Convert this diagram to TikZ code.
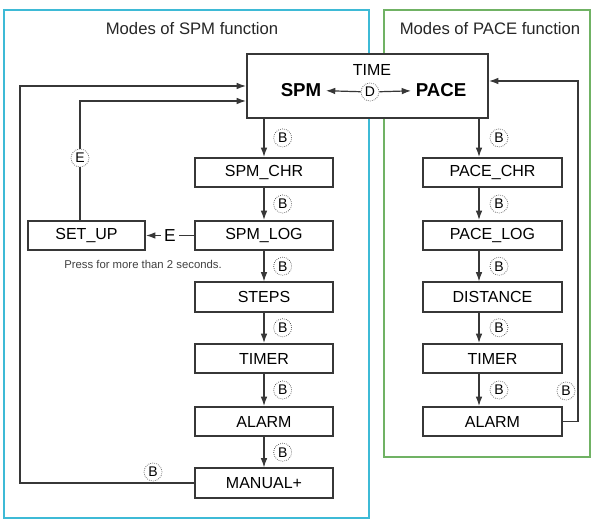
\documentclass[tikz,border=0pt]{standalone}
\usepackage{fontspec}
\setmainfont{Liberation Sans}
\usetikzlibrary{arrows.meta,positioning,calc}
\definecolor{spmframe}{RGB}{62,186,214}
\definecolor{paceframe}{RGB}{112,178,100}
\definecolor{linegray}{RGB}{55,55,55}
\tikzset{
 mode/.style={rectangle,draw=linegray,line width=1.3pt,fill=white,minimum width=104pt,minimum height=22pt,inner sep=0pt,font=\fontsize{12}{14}\selectfont},
 keyb/.style={circle,draw=linegray,densely dotted,line width=0.5pt,fill=white,minimum size=13.5pt,inner sep=0pt,font=\fontsize{10.5}{11}\selectfont},
 title/.style={font=\fontsize{12.5}{14}\selectfont,text=black!85},
 arrow/.style={-{Latex[length=7pt,width=5pt]},line width=0.9pt,draw=linegray}}
\begin{document}
\begin{tikzpicture}[x=0.75pt,y=-0.75pt]
\useasboundingbox (0,0) rectangle (592,523);
% frames
\draw[spmframe,line width=1.5pt] (4,10) rectangle (369,518);
\draw[paceframe,line width=1.5pt] (384,10) rectangle (590,457);
\node[title] (spmtitle) at (192,29) {Modes of SPM function};
\node[title] (pacetitle) at (490,29) {Modes of PACE function};
% top box
\node[mode,minimum width=181pt,minimum height=48pt] (time) at (367.5,86) {};
\node[font=\fontsize{12}{14}\selectfont] (timetxt) at (372,70) {TIME};
\node[font=\fontsize{14}{16}\selectfont\bfseries] (spmtxt) at (301,90) {SPM};
\node[font=\fontsize{14}{16}\selectfont\bfseries] (pacetxt) at (441,90) {PACE};
\node[keyb] (dkey) at (370,92) {D};
\draw[arrow] (dkey) -- (spmtxt);
\draw[arrow] (dkey) -- (pacetxt);
% SPM column
\node[mode] (spmchr) at (264,172.5) {SPM\_CHR};
\node[mode] (spmlog) at (264,235.5) {SPM\_LOG};
\node[mode] (steps) at (264,297) {STEPS};
\node[mode] (spmtimer) at (264,358.5) {TIMER};
\node[mode] (spmalarm) at (264,421.5) {ALARM};
\node[mode] (manual) at (264,483) {MANUAL+};
\node[mode,minimum width=88pt] (setup) at (86.5,235.5) {SET\_UP};
\node[font=\fontsize{8.5}{10}\selectfont,text=black!75] (press) at (143,264) {Press for more than 2 seconds.};
% PACE column
\node[mode] (pacechr) at (492.5,172.5) {PACE\_CHR};
\node[mode] (pacelog) at (492.5,235.5) {PACE\_LOG};
\node[mode] (distance) at (492.5,297) {DISTANCE};
\node[mode] (pacetimer) at (492.5,358.5) {TIMER};
\node[mode] (pacealarm) at (492.5,421.5) {ALARM};
\coordinate (pcol) at (479,0);
% B steps
\draw[arrow] (time.south -| spmchr) -- node[keyb,right=7pt]{B} (spmchr.north);
\foreach \a/\b in {spmchr/spmlog,spmlog/steps,steps/spmtimer,spmtimer/spmalarm,spmalarm/manual}
 \draw[arrow] (\a.south) -- node[keyb,right=7pt]{B} (\b.north);
\draw[arrow] (time.south -| pcol) -- node[keyb,right=8pt]{B} (pacechr.north -| pcol);
\foreach \a/\b in {pacechr/pacelog,pacelog/distance,distance/pacetimer,pacetimer/pacealarm}
 \draw[arrow] (\a.south -| pcol) -- node[keyb,right=8pt]{B} (\b.north -| pcol);
% return loops
\coordinate (mloop) at (20,86);
\coordinate (eloop) at (80,101);
\coordinate (ploop) at (578,81);
\draw[arrow] (manual.west) -| (mloop) -- (mloop -| time.west);
\node[keyb] (mkey) at (153,472) {B};
\draw[arrow] (setup.north -| eloop) -- (eloop) -- (eloop -| time.west);
\node[keyb] (ekey) at (80,158) {E};
\draw[arrow] (pacealarm.east) -| (ploop) -- (ploop -| time.east);
\node[keyb,fill=none] (pkey) at (566,391) {B};
\draw[arrow] (spmlog.west) -- node[fill=white,inner sep=2.5pt,font=\fontsize{13}{14}\selectfont]{E} (setup.east);
\end{tikzpicture}
\end{document}
